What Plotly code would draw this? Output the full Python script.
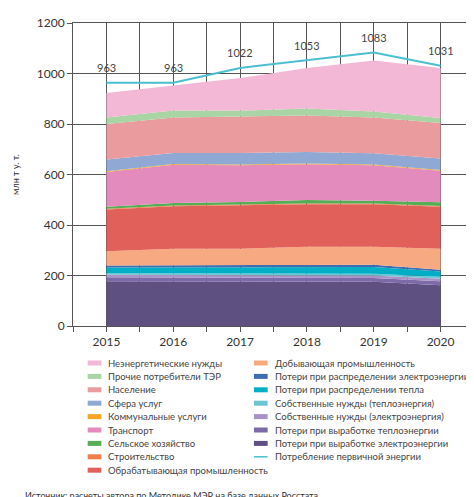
import plotly.graph_objects as go

years = [2015, 2016, 2017, 2018, 2019, 2020]

# stacked layers, bottom to top (mln t c.e.)
names = [
    "Потери при выработке электроэнергии",
    "Потери при выработке теплоэнергии",
    "Собственные нужды (электроэнергия)",
    "Собственные нужды (теплоэнергия)",
    "Потери при распределении тепла",
    "Потери при распределении электроэнергии",
    "Добывающая промышленность",
    "Обрабатывающая промышленность",
    "Строительство",
    "Сельское хозяйство",
    "Транспорт",
    "Коммунальные услуги",
    "Сфера услуг",
    "Население",
    "Прочие потребители ТЭР",
    "Неэнергетические нужды",
]
values = [
    [177, 177, 176, 176, 175, 161],
    [16, 15, 15, 15, 15, 16],
    [10, 10, 10, 10, 10, 10],
    [7, 7, 7, 7, 7, 8],
    [22, 23, 24, 25, 27, 21],
    [8, 8, 8, 9, 9, 7],
    [56, 66, 66, 72, 71, 83],
    [165, 168, 172, 168, 168, 166],
    [3, 3, 3, 3, 3, 3],
    [8, 10, 10, 14, 11, 15],
    [138, 152, 146, 142, 141, 125],
    [3, 3, 3, 3, 3, 3],
    [46, 43, 45, 45, 44, 45],
    [141, 141, 145, 145, 142, 141],
    [26, 27, 23, 27, 24, 20],
    [97, 100, 129, 161, 201, 198],
]
colors = [
    "#5e5182", "#7d6aa8", "#a993c6", "#6cc6d3", "#00afc6", "#3d6fb0",
    "#f7aa82", "#e2605a", "#f07d4a", "#55ae55", "#e38bbc", "#f5a623",
    "#8fa9d4", "#e99b9e", "#a9d4a3", "#f2b8d6",
]
primary = [963, 963, 1022, 1053, 1083, 1031]
line_name = "Потребление первичной энергии"
line_color = "#4bbfd0"

fig = go.Figure()
for n, v, c in zip(names, values, colors):
    fig.add_trace(go.Scatter(
        x=years, y=v, name=n, stackgroup="one", mode="lines",
        line=dict(color=c, width=0), fillcolor=c, showlegend=False,
    ))
fig.add_trace(go.Scatter(
    x=years, y=primary, name=line_name, mode="lines",
    line=dict(color=line_color, width=2), showlegend=False,
))
for x, y in zip(years, primary):
    fig.add_annotation(x=x, y=y, text=str(y), showarrow=False, yshift=15,
                       font=dict(size=11, color="#444"))

# manual two-column legend (plotly's own rows are too tall here)
L, W, T, H = 57, 410, 15, 303
px = lambda p: (p - L) / W
py = lambda p: (L and (T + H - p) / H)
left = list(range(15, 6, -1))      # top layers, left column
right = list(range(6, -1, -1))     # lower layers, right column
rows = [(left, 72), (right, 242)]
for idx_list, x0 in rows:
    for r, i in enumerate(idx_list):
        yc = 355 + r * 13.4
        fig.add_shape(type="rect", xref="paper", yref="paper",
                      x0=px(x0), x1=px(x0 + 14), y0=py(yc - 2.5), y1=py(yc + 2.5),
                      fillcolor=colors[i], line=dict(width=0))
        fig.add_annotation(xref="paper", yref="paper", x=px(x0 + 19), y=py(yc),
                           xanchor="left", yanchor="middle", text=names[i],
                           showarrow=False, font=dict(size=9.5, color="#444"))
yc = 355 + 7 * 13.4
fig.add_shape(type="line", xref="paper", yref="paper", x0=px(242), x1=px(256),
              y0=py(yc), y1=py(yc), line=dict(color=line_color, width=1.5))
fig.add_annotation(xref="paper", yref="paper", x=px(261), y=py(yc), xanchor="left",
                   yanchor="middle", text=line_name, showarrow=False,
                   font=dict(size=9.5, color="#444"))

fig.add_annotation(xref="paper", yref="paper", x=px(6), y=py(487), xanchor="left",
                   yanchor="middle",
                   text="Источник: расчеты автора по Методике МЭР на базе данных Росстата.",
                   showarrow=False, font=dict(size=9, color="#333"))

fig.update_layout(
    width=474, height=497,
    margin=dict(l=57, r=7, t=15, b=179),
    paper_bgcolor="white", plot_bgcolor="white",
    font=dict(family="Lato", color="#333"),
    showlegend=False,
    xaxis=dict(range=[2014.5, 2020.5], dtick=1, tickfont=dict(size=12),
               showgrid=True, gridcolor="#555", gridwidth=1,
               minor=dict(dtick=0.5, showgrid=True, gridcolor="#555", ticks="outside", ticklen=5, tickcolor="#555"),
               ticks="outside", ticklen=5, tickcolor="#555",
               showline=True, linecolor="#555", mirror=True, zeroline=False),
    yaxis=dict(range=[0, 1200], dtick=200, tickfont=dict(size=12),
               title=dict(text="млн т у. т.", font=dict(size=9)),
               showgrid=True, gridcolor="#555", gridwidth=1,
               ticks="outside", ticklen=5, tickcolor="#555",
               showline=True, linecolor="#555", mirror=True, zeroline=False),
)

fig.write_html("out.html")
